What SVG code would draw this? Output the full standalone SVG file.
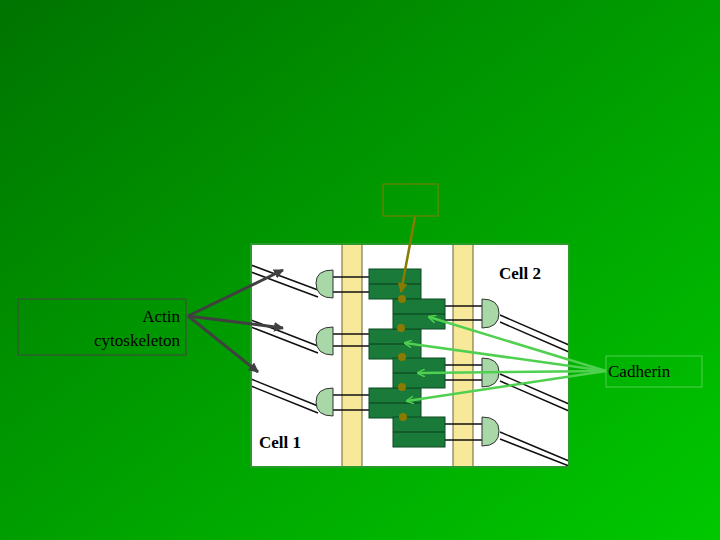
<svg xmlns="http://www.w3.org/2000/svg" width="720" height="540" viewBox="0 0 720 540">
<defs>
<linearGradient id="bg" x1="0" y1="0" x2="1" y2="1"><stop offset="0" stop-color="#007400"/><stop offset="1" stop-color="#00c800"/></linearGradient>
<marker id="ag" markerWidth="8" markerHeight="8" refX="7" refY="4" orient="auto" markerUnits="userSpaceOnUse"><path d="M0,0 L8,4 L0,8" fill="none" stroke="#4fd04f" stroke-width="1.5"/></marker>
<marker id="ak" markerWidth="10" markerHeight="10" refX="9" refY="5" orient="auto" markerUnits="userSpaceOnUse"><path d="M0,0 L10,5 L0,10 Z" fill="#404040"/></marker>
<marker id="ao" markerWidth="10" markerHeight="10" refX="9" refY="5" orient="auto" markerUnits="userSpaceOnUse"><path d="M0,0 L10,5 L0,10 Z" fill="#8a7a00"/></marker>
<style>
.t{font-family:"Liberation Serif",serif;font-size:17px;fill:#000}
.b{font-weight:bold}
.blk{fill:#197a3a;stroke:#0d4a20;stroke-width:1}
.kn{fill:#a8d8a8;stroke:#333;stroke-width:1}
.ln{stroke:#111;stroke-width:1.5;fill:none}
.dot{fill:#8a7a00}
</style>
</defs>
<rect width="720" height="540" fill="url(#bg)"/>
<g id="picture">
<rect x="251" y="244" width="318" height="223" fill="#fff"/>
<rect x="342" y="244" width="20" height="223" fill="#f8e99a" stroke="#6b6030" stroke-width="1"/>
<rect x="453" y="244" width="20" height="223" fill="#f8e99a" stroke="#6b6030" stroke-width="1"/>
<g class="ln">
<path d="M251,265 L318,290 M251,272 L318,297"/>
<path d="M251,320 L318,346 M251,327 L318,353"/>
<path d="M251,379 L318,406 M251,386 L318,413"/>
<path d="M500,315 L569,345 M500,322 L569,352"/>
<path d="M500,374 L569,404 M500,381 L569,411"/>
<path d="M500,432 L569,461 M500,439 L569,466"/>
<path d="M330,277 H370 M330,292 H370"/>
<path d="M330,334 H370 M330,346 H370"/>
<path d="M330,395 H370 M330,410 H370"/>
<path d="M444,306 H484 M444,320 H484"/>
<path d="M444,365 H484 M444,380 H484"/>
<path d="M444,424 H484 M444,440 H484"/>
</g>
<g id="blocks">
<rect class="blk" x="369" y="269" width="52" height="30"/><line x1="369" y1="284" x2="421" y2="284" stroke="#0d3a18"/>
<rect class="blk" x="369" y="329" width="52" height="30"/><line x1="369" y1="344" x2="421" y2="344" stroke="#0d3a18"/>
<rect class="blk" x="369" y="388" width="52" height="30"/><line x1="369" y1="403" x2="421" y2="403" stroke="#0d3a18"/>
<rect class="blk" x="393" y="299" width="52" height="30"/><line x1="393" y1="314" x2="445" y2="314" stroke="#0d3a18"/>
<rect class="blk" x="393" y="358" width="52" height="30"/><line x1="393" y1="373" x2="445" y2="373" stroke="#0d3a18"/>
<rect class="blk" x="393" y="417" width="52" height="30"/><line x1="393" y1="432" x2="445" y2="432" stroke="#0d3a18"/>
</g>
<g id="knobs">
<path class="kn" d="M333,270 Q316,270 316,283 Q316,298 333,298 Z"/>
<path class="kn" d="M333,327 Q316,327 316,340 Q316,355 333,355 Z"/>
<path class="kn" d="M333,388 Q316,388 316,402 Q316,416 333,416 Z"/>
<path class="kn" d="M482,299 Q499,299 499,313 Q499,328 482,328 Z"/>
<path class="kn" d="M482,358 Q499,358 499,372 Q499,387 482,387 Z"/>
<path class="kn" d="M482,417 Q499,417 499,431 Q499,446 482,446 Z"/>
</g>
<g id="dots">
<circle class="dot" cx="402" cy="299" r="4"/><circle class="dot" cx="401" cy="328" r="4"/><circle class="dot" cx="402" cy="357" r="4"/><circle class="dot" cx="402" cy="387" r="4"/><circle class="dot" cx="403" cy="417" r="4"/>
</g>
<rect x="251" y="244" width="318" height="223" fill="none" stroke="#2a9a2a" stroke-width="2"/>
<text class="t b" x="499" y="279">Cell 2</text>
<text class="t b" x="259" y="448">Cell 1</text>
</g>
<g id="box-small"><rect x="383" y="184" width="55" height="32" fill="none" stroke="#8a7a00" stroke-width="1"/></g>
<g id="actin"><rect x="18" y="299" width="168" height="56" fill="none" stroke="#444" stroke-width="1"/>
<text class="t" x="180" y="322" text-anchor="end">Actin</text><text class="t" x="180" y="346" text-anchor="end">cytoskeleton</text></g>
<g id="cadherin"><rect x="606" y="356" width="96" height="31" fill="none" stroke="#4fd04f" stroke-width="1"/>
<text class="t" x="608" y="377">Cadherin</text></g>
<g id="connectors" fill="none">
<line x1="415" y1="217" x2="401" y2="292" stroke="#8a7a00" stroke-width="2.5" marker-end="url(#ao)"/>
<g stroke="#404040" stroke-width="3" marker-end="url(#ak)">
<line x1="188" y1="316" x2="283" y2="270"/>
<line x1="188" y1="316" x2="283" y2="328"/>
<line x1="188" y1="316" x2="258" y2="372"/>
</g>
<g stroke="#4fd04f" stroke-width="2.5" marker-end="url(#ag)">
<line x1="606" y1="371" x2="429" y2="317"/>
<line x1="606" y1="371" x2="405" y2="343"/>
<line x1="606" y1="371" x2="418" y2="373"/>
<line x1="606" y1="371" x2="407" y2="401"/>
</g>
</g>
</svg>
